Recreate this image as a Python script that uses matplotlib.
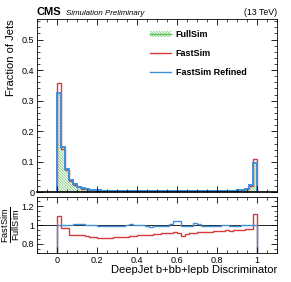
import numpy as np
import matplotlib
matplotlib.use("Agg")
import matplotlib.pyplot as plt
from matplotlib.ticker import MultipleLocator
from matplotlib.patches import Patch
from matplotlib.lines import Line2D

plt.rcParams['font.family'] = ['Liberation Sans', 'DejaVu Sans']
plt.rcParams['mathtext.fontset'] = 'custom'
plt.rcParams['mathtext.rm'] = 'Liberation Sans'
plt.rcParams['hatch.linewidth'] = 0.6

# 50 bins of width 0.02 between 0 and 1
bin_edges = np.linspace(0, 1, 51)

fullsim = [0.325, 0.148, 0.077, 0.042, 0.027, 0.019, 0.0145, 0.0115, 0.0095, 0.0082,
           0.0073, 0.0066, 0.006, 0.0056, 0.0053, 0.005, 0.0048, 0.0046, 0.0044, 0.0043,
           0.0042, 0.0041, 0.004, 0.0039, 0.0039, 0.0038, 0.0038, 0.0038, 0.0038, 0.0038,
           0.0038, 0.0038, 0.0039, 0.0039, 0.004, 0.004, 0.0041, 0.0042, 0.0043, 0.0045,
           0.0047, 0.005, 0.0053, 0.0057, 0.0063, 0.0072, 0.0085, 0.012, 0.023, 0.097]

ratio_fastsim = [1.10, 0.97, 0.965, 0.90, 0.90, 0.895, 0.89, 0.88, 0.875, 0.87,
                 0.865, 0.865, 0.865, 0.868, 0.87, 0.872, 0.875, 0.878, 0.88, 0.885,
                 0.89, 0.893, 0.895, 0.90, 0.905, 0.91, 0.915, 0.92, 0.92, 0.925,
                 0.92, 0.885, 0.91, 0.92, 0.915, 0.925, 0.93, 0.925, 0.93, 0.935,
                 0.94, 0.94, 0.945, 0.94, 0.945, 0.95, 0.95, 0.955, 0.96, 1.115]

ratio_refined = [1.0, 1.0, 1.0, 1.005, 1.01, 1.015, 1.01, 1.0, 1.0, 0.995,
                 0.99, 0.985, 0.985, 0.99, 0.985, 0.985, 0.99, 0.995, 1.01, 1.005,
                 1.0, 0.995, 0.99, 0.98, 0.985, 0.99, 0.985, 0.99, 1.01, 1.045,
                 1.04, 0.99, 0.985, 0.99, 1.025, 1.01, 0.99, 0.985, 0.985, 0.99,
                 0.985, 1.005, 1.0, 0.99, 0.985, 0.99, 1.0, 1.0, 1.0, 1.0]

fullsim = np.array(fullsim)
fastsim = fullsim * np.array(ratio_fastsim)
refined = fullsim * np.array(ratio_refined)

RED = '#d93a3a'
BLUE = '#3f90da'
GREEN = '#5cbf5c'
HATCH_COL = '#7ccc7c'
HATCH = '\\' * 12

fig = plt.figure(figsize=(2.91, 2.82), dpi=100)
ax = fig.add_axes([0.127, 0.3174, 0.825, 0.6152])
rax = fig.add_axes([0.127, 0.1028, 0.825, 0.1986])

# main panel
ax.stairs(fullsim, bin_edges, fill=True, facecolor='none', edgecolor=HATCH_COL,
          hatch=HATCH, linewidth=0)
ax.stairs(fastsim, bin_edges, color=RED, linewidth=1.0)
ax.stairs(refined, bin_edges, color=BLUE, linewidth=1.4)
ax.set_xlim(-0.1, 1.1)
ax.set_ylim(0, 0.567)
ax.set_ylabel('Fraction of Jets', fontsize=8, loc='top')
ax.tick_params(labelbottom=False)

# ratio panel (zero outside [0, 1])
r_edges = np.concatenate([[-0.1], bin_edges, [1.1]])
rax.stairs(np.concatenate([[0], ratio_fastsim, [0]]), r_edges, color=RED, linewidth=1.0)
rax.stairs(np.concatenate([[0], ratio_refined, [0]]), r_edges, color=BLUE, linewidth=1.0)
rax.axhline(1.0, color='black', linewidth=0.6, zorder=0)
rax.set_xlim(-0.1, 1.1)
rax.set_ylim(0.705, 1.295)
rax.set_xlabel('DeepJet b+bb+lepb Discriminator', fontsize=8, loc='right', labelpad=0)
rax.set_ylabel(r'$\frac{\mathrm{FastSim}}{\mathrm{FullSim}}$', fontsize=9.5, loc='center')

for a in (ax, rax):
    a.xaxis.set_major_locator(MultipleLocator(0.2))
    a.xaxis.set_minor_locator(MultipleLocator(0.05))
    a.tick_params(which='both', direction='in', top=True, right=True, labelsize=6.5, pad=2)
    a.tick_params(which='major', length=4, width=0.6)
    a.tick_params(which='minor', length=2, width=0.5)
    for s in a.spines.values():
        s.set_linewidth(0.6)
ax.spines['bottom'].set_linewidth(1.2)
ax.yaxis.set_major_locator(MultipleLocator(0.1))
ax.yaxis.set_minor_locator(MultipleLocator(0.02))
ax.set_yticks([0, 0.1, 0.2, 0.3, 0.4, 0.5])
ax.set_yticklabels(['0', '0.1', '0.2', '0.3', '0.4', '0.5'])
rax.yaxis.set_major_locator(MultipleLocator(0.2))
rax.yaxis.set_minor_locator(MultipleLocator(0.05))
rax.set_yticks([0.8, 1.0, 1.2])
rax.set_yticklabels(['0.8', '1', '1.2'])
rax.set_xticks([0, 0.2, 0.4, 0.6, 0.8, 1.0])
rax.set_xticklabels(['0', '0.2', '0.4', '0.6', '0.8', '1'])
rax.yaxis.set_label_coords(-0.058, 0.5)

# header
ax.text(0.0, 1.012, 'CMS', transform=ax.transAxes, fontsize=8, fontweight='bold', va='bottom')
ax.text(0.12, 1.012, 'Simulation Preliminary', transform=ax.transAxes, fontsize=5.7,
        style='italic', va='bottom')
ax.text(1.0, 1.012, '(13 TeV)', transform=ax.transAxes, fontsize=6.3, ha='right', va='bottom')

handles = [(Patch(facecolor='none', edgecolor=HATCH_COL, hatch=HATCH, linewidth=0),
            Line2D([], [], color=GREEN, linewidth=1.0)),
           Line2D([], [], color=RED, linewidth=1.0),
           Line2D([], [], color=BLUE, linewidth=1.0)]
leg = ax.legend(handles, ['FullSim', 'FastSim', 'FastSim Refined'], loc='upper left',
                bbox_to_anchor=(0.455, 0.955), frameon=False, fontsize=6.5,
                handlelength=2.4, handletextpad=0.45, labelspacing=1.1, borderaxespad=0)
for t in leg.get_texts():
    t.set_fontweight('bold')

fig.savefig('out.png', dpi=100)
